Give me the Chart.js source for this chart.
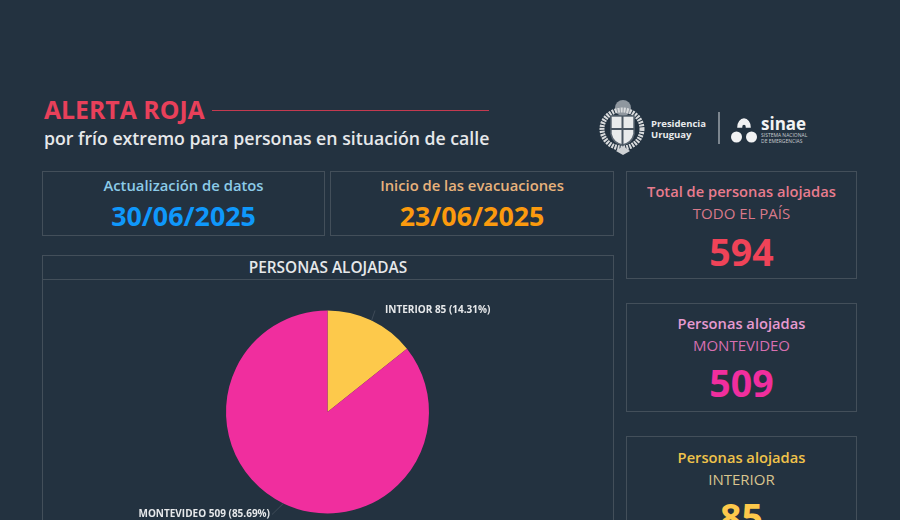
<!DOCTYPE html>
<html>
<head>
<meta charset="utf-8">
<script src="https://cdn.jsdelivr.net/npm/chart.js@4"></script>
<style>
  html, body { margin: 0; padding: 0; }
  body { width: 900px; height: 520px; overflow: hidden; background: #233240; position: relative; font-family: "Open Sans", "Noto Sans", sans-serif; }
  .t { position: absolute; white-space: nowrap; }
  .c { text-align: center; }
  .box { position: absolute; box-sizing: border-box; border: 1.5px solid #434f5a; }
  #torta { position: absolute; left: 43px; top: 280px; }
</style>
</head>
<body>
  <div class="t" style="left:44px;top:94px;font-size:24.8px;line-height:30px;font-weight:700;color:#e8405a">ALERTA ROJA</div>
  <div style="position:absolute;left:212px;top:110px;width:277px;height:1px;background:#c43a50"></div>
  <div class="t" style="left:44px;top:126px;font-size:17.7px;line-height:24px;font-weight:600;color:#e6e8ea">por frío extremo para personas en situación de calle</div>

  <svg style="position:absolute;left:596px;top:96px" width="220" height="64" viewBox="0 0 220 64">
    <circle cx="27" cy="12" r="8" fill="#8f979f"/>
    <ellipse cx="26" cy="33" rx="20" ry="19" fill="none" stroke="#d8dadc" stroke-width="5" stroke-dasharray="2 1"/>
    <path d="M15 20h23v18q-2 9-11.500 11q-9.500-2-11.500-11z" fill="#e9ebec" stroke="#5a6570" stroke-width="1.500"/>
    <path d="M26.500 20v29M15 33h23" stroke="#4a5662" stroke-width="2"/>
    <path d="M20 55l7-5 7 5-7 4z" fill="#cfd2d5"/>
    <line x1="123" y1="16" x2="123" y2="48" stroke="#9ba3aa" stroke-width="1.500"/>
    <path d="M142 31a6 8 0 0 1 12 0l-3.500 0a2.500 3 0 0 0-5 0z" fill="#f2f3f4" stroke="#f2f3f4" stroke-width="1.500"/>
    <circle cx="140.500" cy="41" r="5.500" fill="#f2f3f4"/>
    <circle cx="155.500" cy="41" r="5.500" fill="#f2f3f4"/>
  </svg>
  <div class="t" style="left:651px;top:118px;font-size:9.5px;line-height:11px;font-weight:700;color:#e8eaec">Presidencia<br>Uruguay</div>
  <div class="t" style="left:761px;top:115px;font-size:17px;line-height:18px;font-weight:700;color:#f2f3f4">sinae</div>
  <div class="t" style="left:761px;top:133px;font-size:5px;line-height:5.500px;color:#c8ccd0">SISTEMA NACIONAL<br>DE EMERGENCIAS</div>

  <div class="box" style="left:42px;top:171px;width:283px;height:65px"></div>
  <div class="t c" style="left:42px;width:283px;top:175px;font-size:14.8px;line-height:20px;font-weight:600;color:#8ccbe8">Actualización de datos</div>
  <div class="t c" style="left:42px;width:283px;top:199px;font-size:26.8px;line-height:34px;font-weight:700;color:#0f98fb">30/06/2025</div>

  <div class="box" style="left:330px;top:171px;width:284px;height:65px"></div>
  <div class="t c" style="left:330px;width:284px;top:175px;font-size:14.8px;line-height:20px;font-weight:600;color:#e8b27c">Inicio de las evacuaciones</div>
  <div class="t c" style="left:330px;width:284px;top:199px;font-size:26.8px;line-height:34px;font-weight:700;color:#fb9a0e">23/06/2025</div>

  <div class="box" style="left:42px;top:255px;width:572px;height:300px"></div>
  <div class="box" style="left:42px;top:255px;width:572px;height:25px"></div>
  <div class="t c" style="left:42px;width:572px;top:257px;font-size:15.4px;line-height:21px;font-weight:600;color:#e6e8ea">PERSONAS ALOJADAS</div>

  <canvas id="torta" width="569" height="264" style="width:569px;height:264px"></canvas>

  <div class="box" style="left:626px;top:171px;width:231px;height:108px"></div>
  <div class="t c" style="left:626px;width:231px;top:181px;font-size:14.7px;line-height:20px;font-weight:600;color:#e87c8e">Total de personas alojadas</div>
  <div class="t c" style="left:626px;width:231px;top:203px;font-size:15px;line-height:20px;color:#d8798a">TODO EL PAÍS</div>
  <div class="t c" style="left:626px;width:231px;top:229px;font-size:37.5px;line-height:45px;font-weight:700;color:#ef4358">594</div>

  <div class="box" style="left:626px;top:303px;width:231px;height:109px"></div>
  <div class="t c" style="left:626px;width:231px;top:313px;font-size:14.7px;line-height:20px;font-weight:600;color:#e79ad0">Personas alojadas</div>
  <div class="t c" style="left:626px;width:231px;top:335px;font-size:15px;line-height:20px;color:#d76fb0">MONTEVIDEO</div>
  <div class="t c" style="left:626px;width:231px;top:360px;font-size:37.5px;line-height:45px;font-weight:700;color:#f02e9e">509</div>

  <div class="box" style="left:626px;top:436px;width:231px;height:120px"></div>
  <div class="t c" style="left:626px;width:231px;top:447px;font-size:14.7px;line-height:20px;font-weight:600;color:#f0c24a">Personas alojadas</div>
  <div class="t c" style="left:626px;width:231px;top:469px;font-size:15px;line-height:20px;color:#d8c48e">INTERIOR</div>
  <div class="t c" style="left:626px;width:231px;top:494px;font-size:37.5px;line-height:45px;font-weight:700;color:#fdc94b">85</div>

<script>
const categorias = ['INTERIOR', 'MONTEVIDEO'];
const personas = [85, 509];
const porcentajes = ['14.31%', '85.69%'];
const colores = ['#fdc94b', '#f02e9e'];

// etiquetas con linea guia, ancladas al borde de cada sector
const etiquetas = {
  id: 'etiquetas',
  afterDatasetsDraw(chart) {
    const ctx = chart.ctx;
    ctx.save();
    ctx.font = '700 10px "Open Sans", sans-serif';
    ctx.fillStyle = '#e6e8ea';
    ctx.textBaseline = 'middle';
    chart.getDatasetMeta(0).data.forEach(function (arco, i) {
      const texto = categorias[i] + ' ' + personas[i] + ' (' + porcentajes[i] + ')';
      const medio = (arco.startAngle + arco.endAngle) / 2;
      const borde = { x: arco.x + Math.cos(medio) * arco.outerRadius, y: arco.y + Math.sin(medio) * arco.outerRadius };
      const izquierda = Math.cos(medio) < 0;
      const finX = arco.x + (izquierda ? -55.5 : 47.5);
      const finY = arco.y + (izquierda ? 102.5 : -101.5);
      ctx.strokeStyle = '#4a5662';
      ctx.lineWidth = 0.7;
      ctx.beginPath();
      ctx.moveTo(borde.x, borde.y);
      ctx.lineTo(finX, finY);
      ctx.stroke();
      ctx.textAlign = izquierda ? 'right' : 'left';
      ctx.fillText(texto, finX + (izquierda ? -2 : 10), finY);
    });
    ctx.restore();
  }
};

new Chart(document.getElementById('torta'), {
  type: 'pie',
  data: {
    labels: categorias,
    datasets: [{
      data: personas,
      backgroundColor: colores,
      borderWidth: 0,
      radius: 101.5
    }]
  },
  options: {
    responsive: false,
    animation: false,
    layout: { padding: 0 },
    plugins: {
      legend: { display: false },
      tooltip: { enabled: false },
      title: { display: false }
    }
  },
  plugins: [etiquetas]
});
</script>
</body>
</html>
